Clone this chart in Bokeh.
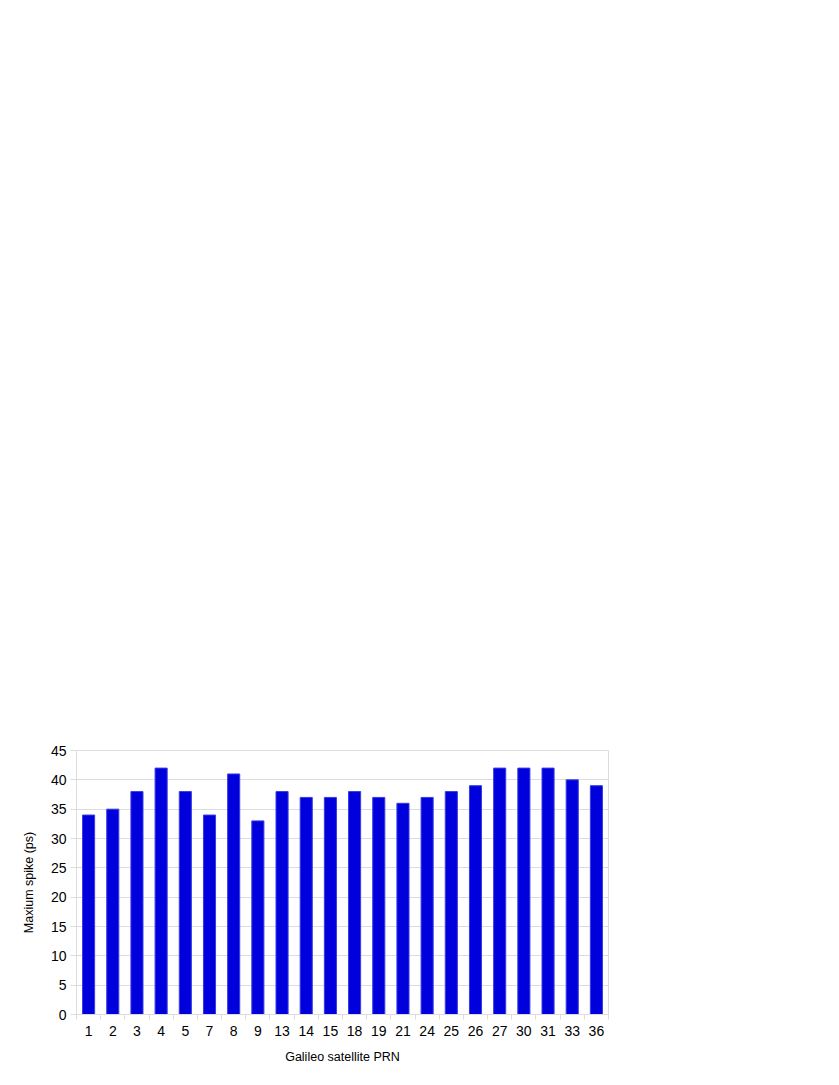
from bokeh.plotting import figure
from bokeh.models import Range1d, FixedTicker, ColumnDataSource
from bokeh.embed import file_html
from bokeh.resources import INLINE

prns = ["1", "2", "3", "4", "5", "7", "8", "9", "13", "14", "15", "18", "19",
        "21", "24", "25", "26", "27", "30", "31", "33", "36"]
max_spike = [34, 35, 38, 42, 38, 34, 41, 33, 38, 37, 37, 38, 37,
             36, 37, 38, 39, 42, 42, 42, 40, 39]
y_ticks = [0, 5, 10, 15, 20, 25, 30, 35, 40, 45]

n = len(prns)
pos = list(range(1, n + 1))
src = ColumnDataSource(dict(x=pos, top=max_spike, prn=prns))

FONT = "Liberation Sans"
GRID = "#dcdcdc"

p = figure(width=628, height=1080, output_backend="svg", toolbar_location=None,
           x_range=Range1d(0.5, n + 0.5), y_range=Range1d(0, 45),
           min_border_left=76, min_border_right=20, min_border_top=750,
           min_border_bottom=66)

p.vbar(x="x", top="top", width=0.5, bottom=0, source=src,
       fill_color="#0000dd", line_color="#3b3be6", line_width=1)

p.outline_line_color = GRID
p.background_fill_color = "white"
p.border_fill_color = "white"

# x axis
xa = p.xaxis[0]
xa.ticker = FixedTicker(ticks=pos, minor_ticks=[i + 0.5 for i in range(0, n + 1)])
xa.major_label_overrides = {i: s for i, s in zip(pos, prns)}
xa.major_tick_out = 0
xa.major_tick_in = 0
xa.minor_tick_out = 5
xa.minor_tick_in = 0
xa.minor_tick_line_color = GRID
xa.axis_line_color = GRID
xa.major_label_text_font = FONT
xa.major_label_text_font_size = "14px"
xa.major_label_text_color = "#000000"
xa.major_label_standoff = 6
xa.axis_label = "Galileo satellite PRN"
xa.axis_label_text_font = FONT
xa.axis_label_text_font_size = "12.5px"
xa.axis_label_text_font_style = "normal"
xa.axis_label_text_color = "#000000"
xa.axis_label_standoff = 11

# y axis
ya = p.yaxis[0]
ya.ticker = FixedTicker(ticks=y_ticks, minor_ticks=[])
ya.major_tick_out = 6
ya.major_tick_in = 0
ya.major_tick_line_color = GRID
ya.minor_tick_line_color = None
ya.axis_line_color = GRID
ya.major_label_text_font = FONT
ya.major_label_text_font_size = "14px"
ya.major_label_text_color = "#000000"
ya.major_label_standoff = 4
ya.axis_label = "Maxium spike (ps)"
ya.axis_label_text_font = FONT
ya.axis_label_text_font_size = "12.5px"
ya.axis_label_text_font_style = "normal"
ya.axis_label_text_color = "#000000"
ya.axis_label_standoff = 12

p.xgrid.grid_line_color = None
p.ygrid.ticker = FixedTicker(ticks=y_ticks)
p.ygrid.grid_line_color = GRID

open("out.html", "w").write(file_html(p, INLINE))
